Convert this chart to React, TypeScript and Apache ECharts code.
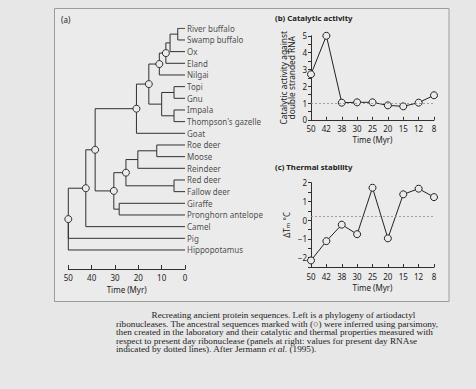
import React, { useEffect, useRef } from "react";
import * as echarts from "echarts";

// ---------- Panel (a): phylogeny ----------
const leaves = [
  "River buffalo", "Swamp buffalo", "Ox", "Eland", "Nilgai", "Topi", "Gnu", "Impala",
  "Thompson's gazelle", "Goat", "Roe deer", "Moose", "Reindeer", "Red deer", "Fallow deer",
  "Giraffe", "Pronghorn antelope", "Camel", "Pig", "Hippopotamus",
];
const cladeIds = ["RS", "RSO", "RSOE", "RSOEN", "TG", "IT", "Ant", "Bov", "BovG", "RM", "RMR", "RF", "Cerv", "GP", "CervGP", "Rum", "RumC", "Root"];
const cladeTimes = [3.1, 6.4, 8.2, 11, 4.7, 4.7, 10, 15.5, 20.8, 12.1, 20.2, 4.7, 25.3, 28.2, 30.5, 38.5, 42.5, 50];
const cladeChildren = [
  ["River buffalo", "Swamp buffalo"],
  ["RS", "Ox"],
  ["RSO", "Eland"],
  ["RSOE", "Nilgai"],
  ["Topi", "Gnu"],
  ["Impala", "Thompson's gazelle"],
  ["TG", "IT"],
  ["RSOEN", "Ant"],
  ["Bov", "Goat"],
  ["Roe deer", "Moose"],
  ["RM", "Reindeer"],
  ["Red deer", "Fallow deer"],
  ["RMR", "RF"],
  ["Giraffe", "Pronghorn antelope"],
  ["Cerv", "GP"],
  ["BovG", "CervGP"],
  ["Rum", "Camel"],
  ["RumC", "Pig", "Hippopotamus"],
];
const reconstructed = ["RSOE", "RSOEN", "Bov", "BovG", "Cerv", "CervGP", "Rum", "RumC", "Root"];

// ---------- Panels (b) and (c) ----------
const ancestorTimes = ["50", "42", "38", "30", "25", "20", "15", "12", "8"];
const catalytic = [2.71, 5.0, 1.02, 1.04, 1.04, 0.86, 0.8, 1.02, 1.46];
const catalyticPresent = 1;
const thermal = [-2.15, -1.12, -0.24, -0.75, 1.73, -0.97, 1.38, 1.68, 1.23];
const thermalPresent = 0.19;

const captionLines = [
  "Recreating ancient protein sequences. Left is a phylogeny of artiodactyl",
  "ribonucleases. The ancestral sequences marked with (\u25CB) were inferred using parsimony,",
  "then created in the laboratory and their catalytic and thermal properties measured with",
  "respect to present day ribonuclease (panels at right: values for present day RNAse",
  "indicated by dotted lines). After Jermann {i|et al.} (1995).",
];

const INK = "#222222";
const LINE = "#303030";
const BG = "#e7e7e7";
const PANEL = "#ebebeb";
const SANS = "Noto Sans";
const SERIF = "Liberation Serif";

function buildTree() {
  const timeOf: Record<string, number> = {};
  const childrenOf: Record<string, string[]> = {};
  cladeIds.forEach((id, i) => {
    timeOf[id] = cladeTimes[i];
    childrenOf[id] = cladeChildren[i];
  });
  leaves.forEach((n) => (timeOf[n] = 0));
  const yOf: Record<string, number> = {};
  leaves.forEach((n, i) => (yOf[n] = i));
  const getY = (id: string): number => {
    if (yOf[id] !== undefined) return yOf[id];
    const ys = childrenOf[id].map(getY);
    const y = (Math.min(...ys) + Math.max(...ys)) / 2;
    yOf[id] = y;
    return y;
  };
  const edges: number[][][] = [];
  cladeIds.forEach((id) => {
    const py = getY(id);
    const pt = timeOf[id];
    childrenOf[id].forEach((c) => {
      const cy = getY(c);
      edges.push([[pt, py], [pt, cy], [timeOf[c], cy]]);
    });
  });
  const circles = reconstructed.map((id) => [timeOf[id], getY(id)]);
  return { edges, circles };
}

export default function App() {
  const ref = useRef<HTMLDivElement>(null);
  useEffect(() => {
    if (!ref.current) return;
    const chart = echarts.init(ref.current, undefined, { renderer: "svg" });
    const { edges, circles } = buildTree();

    const axisLineStyle = { color: LINE, width: 1 };
    const halfLabel = (v: number) =>
      Number.isInteger(v) ? (v < 0 ? "\u2212" + -v : String(v)) : "";

    const catXAxis = (gridIndex: number) => ({
      gridIndex,
      type: "category",
      data: ancestorTimes,
      boundaryGap: false,
      name: "Time (Myr)",
      nameLocation: "middle",
      nameGap: 16,
      nameTextStyle: { fontSize: 8, color: INK, fontFamily: SANS },
      axisLine: { onZero: false, lineStyle: axisLineStyle },
      axisTick: { inside: true, length: 3, lineStyle: axisLineStyle },
      axisLabel: { fontSize: 8, color: INK, margin: 5, fontFamily: SANS },
      splitLine: { show: false },
    });

    const option: any = {
      animation: false,
      backgroundColor: BG,
      textStyle: { fontFamily: SANS, color: INK },
      graphic: [
        {
          type: "rect",
          shape: { x: 54.5, y: 8.5, width: 394.5, height: 293 },
          style: { fill: PANEL, stroke: "#9c9c9c", lineWidth: 1 },
          z: -10,
          silent: true,
        },
        {
          type: "text",
          x: 61,
          y: 19,
          style: { text: "(a)", fontSize: 8, fontFamily: SANS, fill: INK, verticalAlign: "middle" },
        },
        {
          type: "text",
          x: 275,
          y: 18,
          style: { text: "(b) Catalytic activity", fontSize: 7.8, fontWeight: "bold", fontFamily: SANS, fill: INK, verticalAlign: "middle" },
        },
        {
          type: "text",
          x: 275,
          y: 166.5,
          style: { text: "(c) Thermal stability", fontSize: 7.8, fontWeight: "bold", fontFamily: SANS, fill: INK, verticalAlign: "middle" },
        },
        ...captionLines.map((t, i) => ({
          type: "text",
          x: i === 0 ? 151.5 : 116,
          y: [315, 323.5, 332, 340.7, 349.3][i],
          style: {
            text: t,
            fontSize: 9.2,
            fontFamily: SERIF,
            fill: INK,
            verticalAlign: "middle",
            rich: { i: { fontStyle: "italic", fontSize: 9.2, fontFamily: SERIF, fill: INK } },
          },
        })),
      ],
      grid: [
        { left: 68.3, top: 28.3, width: 116.7, height: 240.7 },
        { left: 311, top: 35.8, width: 123, height: 84 },
        { left: 311, top: 182.7, width: 123, height: 84.3 },
      ],
      xAxis: [
        {
          gridIndex: 0,
          type: "value",
          min: 0,
          max: 50,
          interval: 10,
          inverse: true,
          name: "Time (Myr)",
          nameLocation: "middle",
          nameGap: 15,
          nameTextStyle: { fontSize: 8, color: INK, fontFamily: SANS },
          axisLine: { onZero: false, lineStyle: axisLineStyle },
          axisTick: { inside: true, length: 4, lineStyle: axisLineStyle },
          axisLabel: { fontSize: 8, color: INK, margin: 4, fontFamily: SANS },
          splitLine: { show: false },
        },
        catXAxis(1),
        catXAxis(2),
      ],
      yAxis: [
        { gridIndex: 0, type: "value", min: 0, max: 20.63, inverse: true, show: false },
        {
          gridIndex: 1,
          type: "value",
          min: 0,
          max: 5,
          interval: 0.5,
          name: "Catalytic activity against\ndouble stranded RNA",
          nameLocation: "middle",
          nameGap: 15,
          nameTextStyle: { fontSize: 8.3, lineHeight: 8.3, color: INK, fontFamily: SANS },
          axisLine: { show: true, lineStyle: axisLineStyle },
          axisTick: { show: true, length: 3, lineStyle: axisLineStyle },
          axisLabel: { fontSize: 8, color: INK, margin: 4, fontFamily: SANS, formatter: halfLabel },
          splitLine: { show: false },
        },
        {
          gridIndex: 2,
          type: "value",
          min: -2.5,
          max: 2,
          interval: 0.5,
          name: "\u0394T{s|m} \u00B0C",
          nameLocation: "middle",
          nameGap: 20,
          nameTextStyle: {
            fontSize: 8,
            color: INK,
            fontFamily: SANS,
            rich: { s: { fontSize: 6, verticalAlign: "bottom", padding: [4, 0, 0, 0], color: INK, fontFamily: SANS } },
          },
          axisLine: { show: true, onZero: false, lineStyle: axisLineStyle },
          axisTick: { show: true, length: 3, lineStyle: axisLineStyle },
          axisLabel: { fontSize: 8, color: INK, margin: 4, fontFamily: SANS, formatter: halfLabel },
          splitLine: { show: false },
        },
      ],
      series: [
        {
          type: "lines",
          coordinateSystem: "cartesian2d",
          xAxisIndex: 0,
          yAxisIndex: 0,
          polyline: true,
          silent: true,
          data: edges.map((c) => ({ coords: c })),
          lineStyle: { color: LINE, width: 1, opacity: 1, curveness: 0 },
          z: 2,
        },
        {
          type: "scatter",
          xAxisIndex: 0,
          yAxisIndex: 0,
          data: circles,
          symbol: "circle",
          symbolSize: 7,
          itemStyle: { color: PANEL, borderColor: LINE, borderWidth: 1, opacity: 1 },
          z: 5,
          silent: true,
        },
        {
          type: "scatter",
          xAxisIndex: 0,
          yAxisIndex: 0,
          data: leaves.map((n, i) => [0, i, n]),
          symbolSize: 0,
          itemStyle: { color: "transparent" },
          label: {
            show: true,
            position: "right",
            distance: 2,
            fontSize: 8,
            color: INK,
            fontFamily: SANS,
            formatter: (p: any) => p.value[2],
          },
          silent: true,
        },
        {
          type: "line",
          xAxisIndex: 1,
          yAxisIndex: 1,
          data: catalytic,
          symbol: "circle",
          symbolSize: 7,
          lineStyle: { color: "#222", width: 1 },
          itemStyle: { color: PANEL, borderColor: "#222", borderWidth: 1 },
          markLine: {
            silent: true,
            symbol: "none",
            label: { show: false },
            lineStyle: { color: "#8c8c8c", type: [2, 2], width: 0.8 },
            data: [{ yAxis: catalyticPresent }],
          },
          z: 3,
        },
        {
          type: "line",
          xAxisIndex: 2,
          yAxisIndex: 2,
          data: thermal,
          symbol: "circle",
          symbolSize: 7,
          lineStyle: { color: "#222", width: 1 },
          itemStyle: { color: PANEL, borderColor: "#222", borderWidth: 1 },
          markLine: {
            silent: true,
            symbol: "none",
            label: { show: false },
            lineStyle: { color: "#8c8c8c", type: [2, 2], width: 0.8 },
            data: [{ yAxis: thermalPresent }],
          },
          z: 3,
        },
      ],
    };
    chart.setOption(option);
    return () => chart.dispose();
  }, []);
  return <div ref={ref} style={{ position: "absolute", left: 0, top: 0, width: 476, height: 389 }} />;
}
